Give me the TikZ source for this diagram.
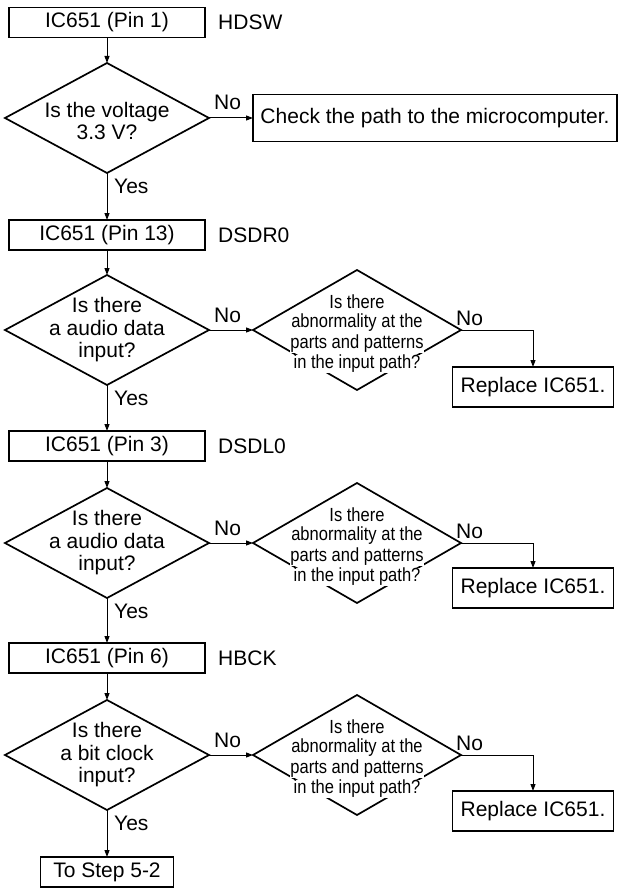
\documentclass[tikz,border=0pt]{standalone}
\usepackage{fontspec}
\setmainfont{Liberation Sans}
\newfontfamily\narrowfont[FakeStretch=0.87]{Liberation Sans}
\usetikzlibrary{shapes.geometric,arrows.meta,calc}
\tikzset{
 box/.style={draw, line width=1.6pt, rectangle, inner sep=0pt, outer sep=0pt, minimum height=30pt, font=\fontsize{21}{23}\selectfont},
 mainbox/.style={box, minimum width=196pt},
 repbox/.style={box, minimum width=161pt, minimum height=40pt},
 dia/.style={draw, line width=1.7pt, diamond, inner sep=0pt, outer sep=0pt, minimum width=204pt, minimum height=110pt},
 sdia/.style={dia, minimum width=208pt, minimum height=120pt},
 dtext/.style={align=center, font=\fontsize{21}{22.5}\selectfont, inner sep=0pt},
 stext/.style={fill=white, inner sep=0.6pt, font=\narrowfont\fontsize{19}{20}\selectfont},
 lbl/.style={font=\fontsize{21}{23}\selectfont, inner sep=0pt},
 arr/.style={line width=1pt, -{Triangle[length=7pt,width=5pt]}},
}
\newcommand\abnormtext[1]{%
  \node[stext] (#1a) at ($(#1)+(0,-28)$) {Is there};
  \node[stext] (#1b) at ($(#1)+(0,-7)$) {abnormality at the};
  \node[stext] (#1c) at ($(#1)+(0,14)$) {parts and patterns};
  \node[stext] (#1d) at ($(#1)+(0,34)$) {in the input path?};
}
\begin{document}
\begin{tikzpicture}[x=1pt,y=-1pt]
\useasboundingbox (0,0) rectangle (624,888);

% ---- row 1
\node[mainbox] (b1) at (107,22.5) {IC651 (Pin 1)};
\node[lbl, anchor=west] (l1) at (218,22.5) {HDSW};
\node[dia] (d1) at (107,118) {};
\node[dtext] (d1t) at (107,121) {Is the voltage\\3.3 V?};
\node[box, minimum width=364pt, minimum height=47pt] (chk) at (435,118) {Check the path to the microcomputer.};
\draw[arr] (b1.south) -- (d1.north);
\draw[arr] (d1.east) -- (chk.west);
\node[lbl, anchor=base west] (n1) at ($(d1.east)+(5,-8)$) {No};

% ---- row 2
\node[mainbox] (b2) at (107,235) {IC651 (Pin 13)};
\node[lbl, anchor=west] (l2) at (218,235) {DSDR0};
\draw[arr] (d1.south) -- (b2.north);
\node[lbl, anchor=west] (y1) at ($(d1.south)+(7,13)$) {Yes};
\node[dia] (d2) at (107,330) {};
\node[dtext] (d2t) at (107,330) {Is there\\a audio data\\input?};
\draw[arr] (b2.south) -- (d2.north);
\node[sdia] (s2) at (357,330) {};
\abnormtext{s2}
\draw[arr] (d2.east) -- (s2.west);
\node[lbl, anchor=base west] (n2) at ($(d2.east)+(5,-8)$) {No};
\node[repbox] (r2) at (533,387) {Replace IC651.};
\draw[arr] (s2.east) -| (r2.north);
\node[lbl, anchor=base west] (n3) at ($(s2.east)+(-5,-5)$) {No};

% ---- row 3
\node[mainbox] (b3) at (107,446) {IC651 (Pin 3)};
\node[lbl, anchor=west] (l3) at (218,446) {DSDL0};
\draw[arr] (d2.south) -- (b3.north);
\node[lbl, anchor=west] (y2) at ($(d2.south)+(7,13)$) {Yes};
\node[dia] (d3) at (107,543) {};
\node[dtext] (d3t) at (107,543) {Is there\\a audio data\\input?};
\draw[arr] (b3.south) -- (d3.north);
\node[sdia] (s3) at (357,543) {};
\abnormtext{s3}
\draw[arr] (d3.east) -- (s3.west);
\node[lbl, anchor=base west] (n4) at ($(d3.east)+(5,-8)$) {No};
\node[repbox] (r3) at (533,588) {Replace IC651.};
\draw[arr] (s3.east) -| (r3.north);
\node[lbl, anchor=base west] (n5) at ($(s3.east)+(-5,-5)$) {No};

% ---- row 4
\node[mainbox] (b4) at (107,658) {IC651 (Pin 6)};
\node[lbl, anchor=west] (l4) at (218,658) {HBCK};
\draw[arr] (d3.south) -- (b4.north);
\node[lbl, anchor=west] (y3) at ($(d3.south)+(7,13)$) {Yes};
\node[dia] (d4) at (107,755) {};
\node[dtext] (d4t) at (107,755) {Is there\\a bit clock\\input?};
\draw[arr] (b4.south) -- (d4.north);
\node[sdia] (s4) at (357,755) {};
\abnormtext{s4}
\draw[arr] (d4.east) -- (s4.west);
\node[lbl, anchor=base west] (n6) at ($(d4.east)+(5,-8)$) {No};
\node[repbox] (r4) at (533,811) {Replace IC651.};
\draw[arr] (s4.east) -| (r4.north);
\node[lbl, anchor=base west] (n7) at ($(s4.east)+(-5,-5)$) {No};

% ---- end
\node[box, minimum width=133pt] (fin) at (107,872) {To Step 5-2};
\draw[arr] (d4.south) -- (fin.north);
\node[lbl, anchor=west] (y4) at ($(d4.south)+(7,13)$) {Yes};
\end{tikzpicture}
\end{document}
